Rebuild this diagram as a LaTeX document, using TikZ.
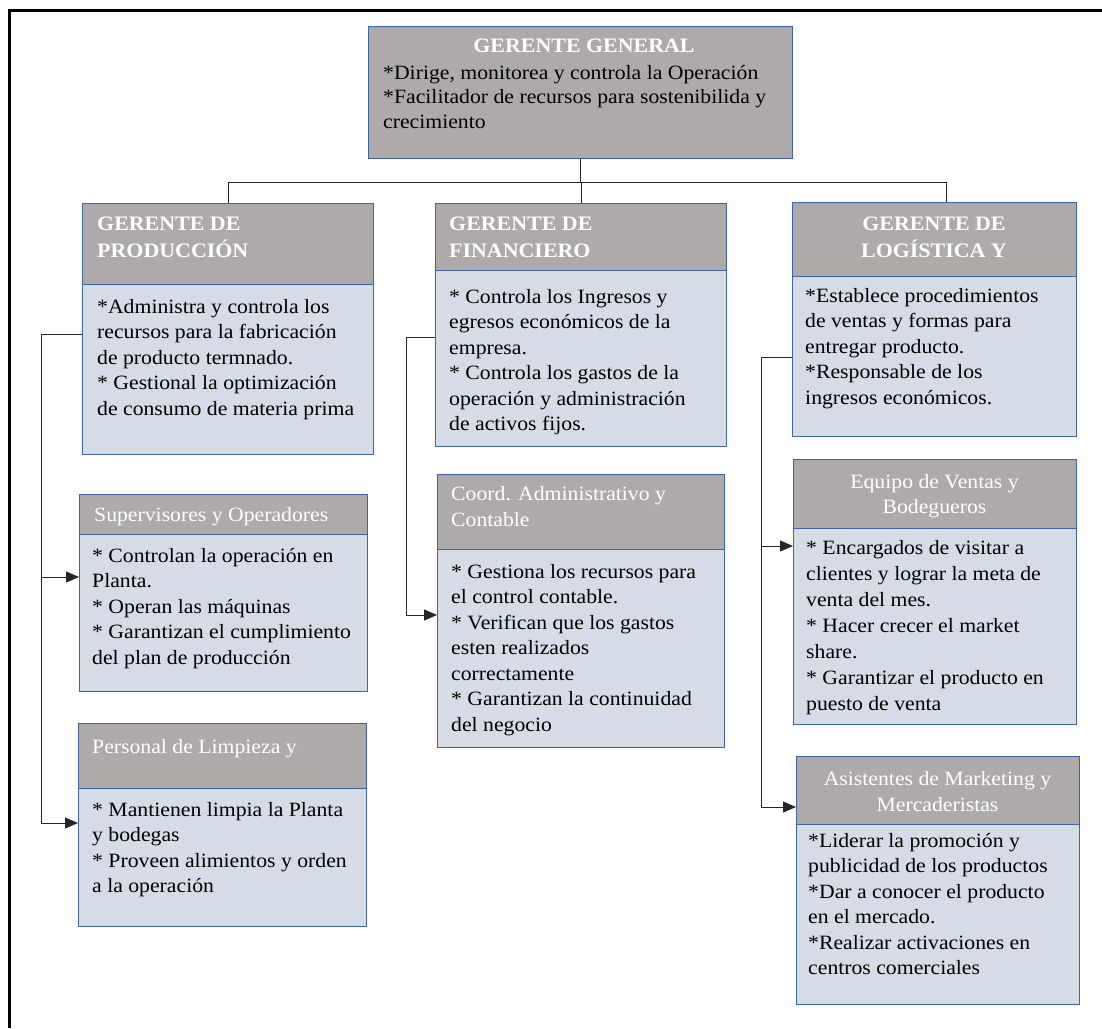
\documentclass[tikz,border=0pt]{standalone}
\usepackage{fontspec}
\setmainfont{Liberation Serif}[FakeStretch=1.07]
\usetikzlibrary{arrows.meta}

\definecolor{hdrgray}{RGB}{174,170,170}
\definecolor{bodyblue}{RGB}{214,220,229}
\definecolor{edgeblue}{RGB}{64,100,166}

% rows of text, first baseline = node baseline
\newcommand\leftrows[1]{\vtop{\halign{##\hfil\cr#1\crcr}}}
\newcommand\midrows[1]{\vtop{\halign{\hfil##\hfil\cr#1\crcr}}}

\tikzset{
  hdrbox/.style={draw=edgeblue, line width=1.3pt, fill=hdrgray, inner sep=0pt, anchor=north west},
  bodybox/.style={draw=edgeblue, line width=1.3pt, fill=bodyblue, inner sep=0pt, anchor=north west},
  bodytxt/.style={anchor=base west, inner sep=0pt, text=black, font=\fontsize{20.3}{25.5}\selectfont},
  hdrtxt/.style={anchor=base west, inner sep=0pt, text=white, font=\fontsize{20.3}{26.5}\selectfont},
  hdrtxtc/.style={hdrtxt, anchor=base},
  titletxt/.style={hdrtxt, font=\fontsize{20.5}{27}\selectfont\bfseries},
  conn/.style={draw=black!85, line width=1pt},
  arr/.style={conn, -{Triangle[length=13pt,width=11pt]}}
}

\begin{document}
\begin{tikzpicture}[x=1pt,y=-1pt]
\useasboundingbox (0,0) rectangle (1102,1028);
\fill[white] (0,0) rectangle (1102,1028);

% outer frame
\draw[line width=3pt] (9,1028) -- (9,10) -- (1102,10);

% general manager
\node[hdrbox, minimum width=424pt, minimum height=132pt] (gg) at (368,26) {};
\node[titletxt, anchor=base] (ggT) at (584,52) {GERENTE GENERAL};
\node[bodytxt, font=\fontsize{20.3}{24.5}\selectfont] (ggB) at (383,79) {\leftrows{%
*Dirige, monitorea y controla la Operación\cr
*Facilitador de recursos para sostenibilida y\cr
crecimiento}};

% production column
\node[bodybox, minimum width=291pt, minimum height=170pt] (prodB) at (82,284) {};
\node[hdrbox, minimum width=291pt, minimum height=81pt] (prodH) at (82,203) {};
\node[titletxt] (prodHT) at (97,230) {\leftrows{GERENTE DE\cr PRODUCCIÓN}};
\node[bodytxt] (prodBT) at (97,313) {\leftrows{%
*Administra y controla los\cr
recursos para la fabricación\cr
de producto termnado.\cr
* Gestional la optimización\cr
de consumo de materia prima}};

\node[bodybox, minimum width=288pt, minimum height=157pt] (supB) at (79,534) {};
\node[hdrbox, minimum width=288pt, minimum height=40pt] (supH) at (79,494) {};
\node[hdrtxt] (supHT) at (94,521) {Supervisores y Operadores};
\node[bodytxt] (supBT) at (92,562) {\leftrows{%
* Controlan la operación en\cr
Planta.\cr
* Operan las máquinas\cr
* Garantizan el cumplimiento\cr
del plan de producción}};

\node[bodybox, minimum width=288pt, minimum height=138pt] (persB) at (78,788) {};
\node[hdrbox, minimum width=288pt, minimum height=65pt] (persH) at (78,723) {};
\node[hdrtxt] (persHT) at (92,753) {Personal de Limpieza y};
\node[bodytxt] (persBT) at (92,816) {\leftrows{%
* Mantienen limpia la Planta\cr
y bodegas\cr
* Proveen alimientos y orden\cr
a la operación}};

% finance column
\node[bodybox, minimum width=291pt, minimum height=176pt] (finB) at (435,270) {};
\node[hdrbox, minimum width=291pt, minimum height=67pt] (finH) at (435,203) {};
\node[titletxt] (finHT) at (449,230) {\leftrows{GERENTE DE\cr FINANCIERO}};
\node[bodytxt] (finBT) at (449,303) {\leftrows{%
* Controla los Ingresos y\cr
egresos económicos de la\cr
empresa.\cr
* Controla los gastos de la\cr
operación y administración\cr
de activos fijos.}};

\node[bodybox, minimum width=287pt, minimum height=198pt] (coordB) at (437,549) {};
\node[hdrbox, minimum width=287pt, minimum height=75pt] (coordH) at (437,474) {};
\node[hdrtxt] (coordHT) at (451,500) {\leftrows{Coord. Administrativo y\cr Contable}};
\node[bodytxt] (coordBT) at (451,578) {\leftrows{%
* Gestiona los recursos para\cr
el control contable.\cr
* Verifican que los gastos\cr
esten realizados\cr
correctamente\cr
* Garantizan la continuidad\cr
del negocio}};

% logistics column
\node[bodybox, minimum width=284pt, minimum height=160pt] (logB) at (792,276) {};
\node[hdrbox, minimum width=284pt, minimum height=74pt] (logH) at (792,202) {};
\node[titletxt, anchor=base] (logHT) at (934,230) {\midrows{GERENTE DE\cr LOGÍSTICA Y}};
\node[bodytxt] (logBT) at (805,302) {\leftrows{%
*Establece procedimientos\cr
de ventas y formas para\cr
entregar producto.\cr
*Responsable de los\cr
ingresos económicos.}};

\node[bodybox, minimum width=283pt, minimum height=196pt] (eqB) at (793,528) {};
\node[hdrbox, minimum width=283pt, minimum height=69pt] (eqH) at (793,459) {};
\node[hdrtxtc, font=\fontsize{20.3}{25}\selectfont] (eqHT) at (934.5,488) {\midrows{Equipo de Ventas y\cr Bodegueros}};
\node[bodytxt, font=\fontsize{20.3}{26}\selectfont] (eqBT) at (806,554) {\leftrows{%
* Encargados de visitar a\cr
clientes y lograr la meta de\cr
venta del mes.\cr
* Hacer crecer el market\cr
share.\cr
* Garantizar el producto en\cr
puesto de venta}};

\node[bodybox, minimum width=283pt, minimum height=180pt] (asisB) at (796,824) {};
\node[hdrbox, minimum width=283pt, minimum height=68pt] (asisH) at (796,756) {};
\node[hdrtxtc, font=\fontsize{20.3}{26}\selectfont] (asisHT) at (937.5,785) {\midrows{Asistentes de Marketing y\cr Mercaderistas}};
\node[bodytxt] (asisBT) at (808,847) {\leftrows{%
*Liderar la promoción y\cr
publicidad de los productos\cr
*Dar a conocer el producto\cr
en el mercado.\cr
*Realizar activaciones en\cr
centros comerciales}};

% top-level connectors
\coordinate (busL) at (228,182);
\coordinate (busR) at (946,182);
\draw[conn] (gg.south) -- (gg.south |- busL);
\draw[conn] (prodH.north -| busL) -- (busL) -- (busR) -- (busR |- logH.north);
\draw[conn] (finH.north) -- (finH.north |- busL);

% production branch
\coordinate (pTop) at (41,334);
\coordinate (pSup) at (41,577);
\coordinate (pPers) at (41,823);
\draw[arr] (prodB.west |- pTop) -- (pTop) -- (pPers) -- (persB.west |- pPers);
\draw[arr] (pSup) -- (supB.west |- pSup);

% finance branch
\coordinate (fTop) at (406,337);
\coordinate (fCoord) at (406,615);
\draw[arr] (finB.west |- fTop) -- (fTop) -- (fCoord) -- (coordB.west |- fCoord);

% logistics branch
\coordinate (lTop) at (761,357);
\coordinate (lEq) at (761,546);
\coordinate (lAsis) at (761,807);
\draw[arr] (logB.west |- lTop) -- (lTop) -- (lAsis) -- (asisH.west |- lAsis);
\draw[arr] (lEq) -- (eqB.west |- lEq);
\end{tikzpicture}
\end{document}
